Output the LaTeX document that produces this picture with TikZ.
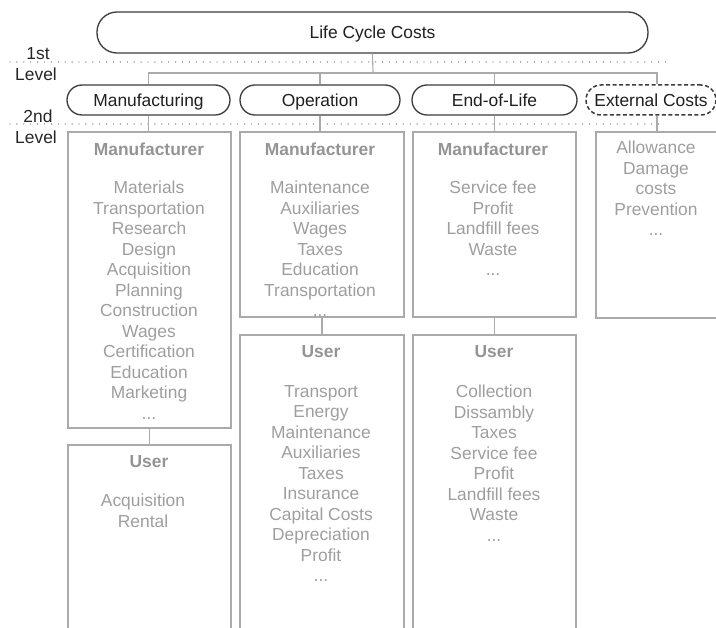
\documentclass[tikz,border=0pt]{standalone}
\usepackage{fontspec}
\setmainfont{Liberation Sans}
\definecolor{txtgray}{RGB}{158,158,158}
\definecolor{hdgray}{RGB}{148,148,148}
\definecolor{boxgray}{RGB}{170,170,170}
\definecolor{dark}{RGB}{60,60,60}
\begin{document}
\begin{tikzpicture}[x=1pt,y=-1pt,
  every node/.style={font=\fontsize{17.4}{20.5}\selectfont},
  pill/.style={draw=dark,line width=1.3pt,rounded corners=15pt,minimum height=30pt,inner sep=0pt,text=black!88,text height=12.5pt,text depth=0pt},
  topbox/.style={draw=dark,line width=1.3pt,rounded corners=20pt,minimum height=41pt,inner sep=0pt,text=black!88,text height=12.5pt,text depth=0pt},
  costbox/.style={draw=boxgray,line width=1.2pt,inner sep=0pt},
  conn/.style={draw=boxgray,line width=1.1pt},
  dots/.style={draw=black!55,line width=1.4pt,line cap=round,dash pattern=on 0pt off 6.9pt},
  hd/.style={anchor=base,text=hdgray,font=\fontsize{17.4}{20.5}\selectfont\bfseries},
  items/.style={anchor=north,inner sep=0pt,text=txtgray,align=center,execute at begin node=\strut},
  lvl/.style={anchor=base,text=black!85}]
\useasboundingbox (0,0) rectangle (716,628);
\clip (0,0) rectangle (716,628);

% level labels and dotted separators
\node[lvl] (l1a) at (38,60) {1st};
\node[lvl] (l1b) at (36,81) {Level};
\node[lvl] (l2a) at (38,123) {2nd};
\node[lvl] (l2b) at (36,144) {Level};
\coordinate (d1s) at (10,62); \coordinate (d1e) at (668,62);
\coordinate (d2s) at (10,124); \coordinate (d2e) at (665,124);
\draw[dots] (d1s) -- (d1e);
\draw[dots] (d2s) -- (d2e);

% first level
\node[topbox,minimum width=551pt] (lcc) at (372.5,32.5) {Life Cycle Costs};

% second level
\node[pill,minimum width=163pt] (man) at (148.5,100) {Manufacturing};
\node[pill,minimum width=160pt] (op) at (320,100) {Operation};
\node[pill,minimum width=165pt] (eol) at (494.5,100) {End-of-Life};
\node[pill,dashed,line width=1.5pt,dash pattern=on 4pt off 2.5pt,minimum width=130pt] (ext) at (651,100) {External Costs};

% cost boxes
\node[costbox,minimum width=163pt,minimum height=296pt] (manM) at (149.5,280) {};
\node[costbox,minimum width=163pt,minimum height=190pt] (manU) at (149.5,540) {};
\node[costbox,minimum width=164pt,minimum height=185pt] (opM) at (322,224.5) {};
\node[costbox,minimum width=164pt,minimum height=300pt] (opU) at (322,485) {};
\node[costbox,minimum width=163pt,minimum height=185pt] (eolM) at (494.5,224.5) {};
\node[costbox,minimum width=163pt,minimum height=300pt] (eolU) at (494.5,485) {};
\node[costbox,minimum width=122pt,minimum height=186pt] (extB) at (657,225) {};

% connectors
\coordinate (bus) at (373,73);
\draw[conn] (lcc.south) -- (bus);
\draw[conn] (man.north) |- (bus) -| (extB.north |- ext.north);
\draw[conn] (op.north) -- (op.north |- bus);
\draw[conn] (eol.north) -- (eol.north |- bus);
\draw[conn] (man.south) -- (man.south |- manM.north);
\draw[conn] (op.south) -- (op.south |- opM.north);
\draw[conn] (eol.south) -- (eol.south |- eolM.north);
\draw[conn] (extB.north |- ext.south) -- (extB.north);
\draw[conn] (manM.south) -- (manU.north);
\draw[conn] (opM.south) -- (opU.north);
\draw[conn] (eolM.south) -- (eolU.north);

% texts (items: node top = first baseline - 14.35)
\node[hd] (manMh) at (149,155.5) {Manufacturer};
\node[items] (manMi) at (149,181.1) {Materials\\Transportation\\Research\\Design\\Acquisition\\Planning\\Construction\\Wages\\Certification\\Education\\Marketing\\...};
\node[hd] (manUh) at (149,468) {User};
\node[items] (manUi) at (143,494) {Acquisition\\Rental};

\node[hd] (opMh) at (320,155.5) {Manufacturer};
\node[items] (opMi) at (320,181.1) {Maintenance\\Auxiliaries\\Wages\\Taxes\\Education\\Transportation\\...};
\node[hd] (opUh) at (321,357.5) {User};
\node[items] (opUi) at (321,385) {Transport\\Energy\\Maintenance\\Auxiliaries\\Taxes\\Insurance\\Capital Costs\\Depreciation\\Profit\\...};

\node[hd] (eolMh) at (493,155.5) {Manufacturer};
\node[items] (eolMi) at (493,181.1) {Service fee\\Profit\\Landfill fees\\Waste\\...};
\node[hd] (eolUh) at (494,357.5) {User};
\node[items] (eolUi) at (494,385) {Collection\\Dissambly\\Taxes\\Service fee\\Profit\\Landfill fees\\Waste\\...};

\node[items] (extI) at (656,141.1) {Allowance\\Damage\\costs\\Prevention\\...};
\end{tikzpicture}
\end{document}
